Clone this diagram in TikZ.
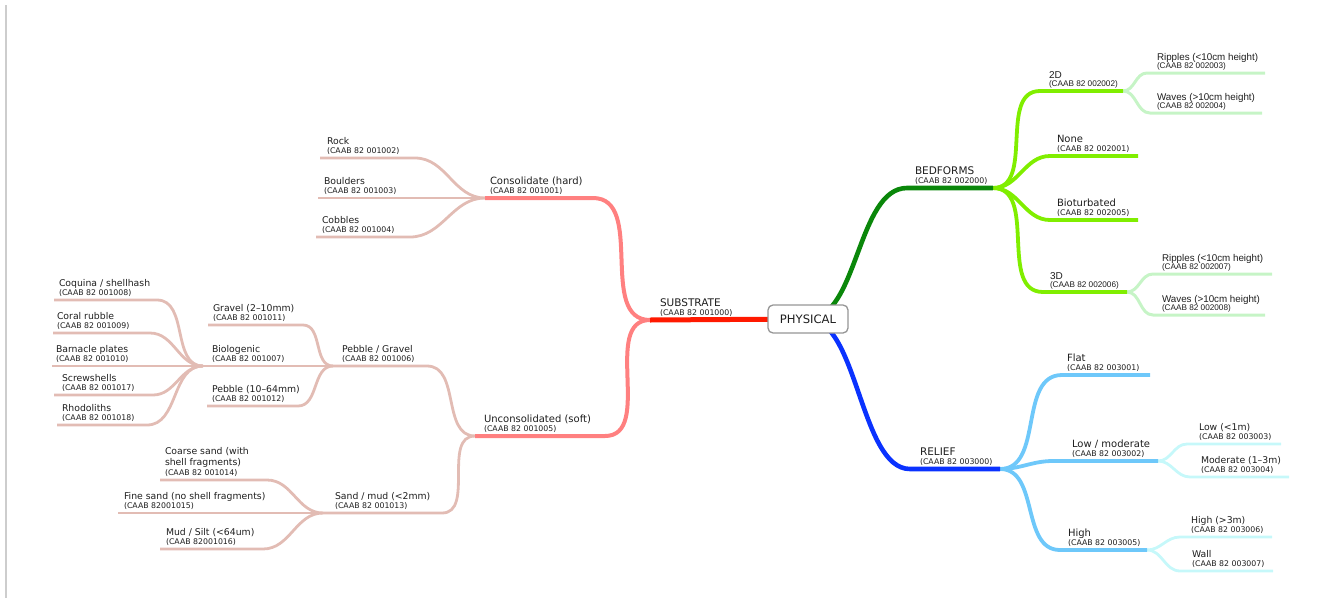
\documentclass[tikz,border=0pt]{standalone}
\usepackage{fontspec}
\usetikzlibrary{backgrounds}
\newfontfamily\lgfont{DejaVu Sans}
\newfontfamily\hvfont{Liberation Sans}
\definecolor{cRed}{RGB}{255,25,0}
\definecolor{cSal}{RGB}{255,128,128}
\definecolor{cPk}{RGB}{226,188,180}
\definecolor{cDG}{RGB}{10,135,10}
\definecolor{cBG}{RGB}{128,238,0}
\definecolor{cPG}{RGB}{198,244,198}
\definecolor{cBl}{RGB}{10,50,255}
\definecolor{cLB}{RGB}{110,200,250}
\definecolor{cPC}{RGB}{198,248,250}
\definecolor{cTxt}{RGB}{30,30,30}
\definecolor{cBar}{RGB}{205,205,205}
\definecolor{cBox}{RGB}{150,150,150}
% name, label style, caption style, text x, line y, label, caption, line x1, line x2
\newcommand{\mmitem}[9]{%
  \coordinate (#1-l) at (#8,#5);
  \coordinate (#1-r) at (#9,#5);
  \node[#2] (#1) at (#4,#5-14) {#6};
  \node[#3] (#1-c) at (#4,#5-4.5) {#7};}
\begin{document}
\begin{tikzpicture}[x=1pt,y=-1pt,
  every node/.style={inner sep=0pt, outer sep=0pt, anchor=base west, text=cTxt},
  labA/.style={font=\lgfont\fontsize{10.5}{12}\selectfont},
  labB/.style={font=\lgfont\fontsize{10}{12}\selectfont},
  lab/.style={font=\lgfont\fontsize{9.3}{11}\selectfont},
  capt/.style={font=\lgfont\fontsize{7.8}{9}\selectfont},
  hlabB/.style={font=\hvfont\fontsize{10}{12}\selectfont, yshift=-1.5pt},
  hlab/.style={font=\hvfont\fontsize{9.8}{12}\selectfont, yshift=-1.5pt},
  hcapt/.style={font=\hvfont\fontsize{8.2}{9}\selectfont},
  wRed/.style={draw=cRed, line width=5pt},
  wSal/.style={draw=cSal, line width=4pt},
  wPk/.style={draw=cPk, line width=2.8pt},
  wDG/.style={draw=cDG, line width=4.6pt},
  wBG/.style={draw=cBG, line width=3.8pt},
  wPG/.style={draw=cPG, line width=3pt},
  wBl/.style={draw=cBl, line width=4.6pt},
  wLB/.style={draw=cLB, line width=3.8pt},
  wPC/.style={draw=cPC, line width=2.8pt},
  physbox/.style={draw=cBox, line width=1.3pt, fill=white, rounded corners=5pt,
    minimum width=80pt, minimum height=28pt, anchor=center,
    font=\lgfont\fontsize{11.6}{13}\selectfont}
]
\useasboundingbox (0,0) rectangle (1330,611);
\draw[cBar, line width=1.2pt] (6,5) -- (6,598);

\node[physbox] (phys) at (808,319) {PHYSICAL};

% ---- left side ----
\mmitem{sub}{labA}{capt}{660}{320}{SUBSTRATE}{(CAAB 82 001000)}{650}{768}
\mmitem{con}{labB}{capt}{490}{198}{Consolidate (hard)}{(CAAB 82 001001)}{485}{593}
\mmitem{unc}{labB}{capt}{484}{436}{Unconsolidated (soft)}{(CAAB 82 001005)}{475}{605}
\mmitem{rock}{lab}{capt}{327}{158}{Rock}{(CAAB 82 001002)}{320}{415}
\mmitem{bould}{lab}{capt}{324}{198}{Boulders}{(CAAB 82 001003)}{318}{485}
\mmitem{cobb}{lab}{capt}{322}{237}{Cobbles}{(CAAB 82 001004)}{316}{410}
\mmitem{peb}{lab}{capt}{342}{366}{Pebble / Gravel}{(CAAB 82 001006)}{333}{427}
\mmitem{sand}{lab}{capt}{335}{513}{Sand / mud (<2mm)}{(CAAB 82 001013)}{323}{442}
\mmitem{grav}{lab}{capt}{213}{325}{Gravel (2–10mm)}{(CAAB 82 001011)}{208}{303}
\mmitem{bio}{lab}{capt}{212}{366}{Biologenic}{(CAAB 82 001007)}{203}{333}
\mmitem{pten}{lab}{capt}{212}{406}{Pebble (10–64mm)}{(CAAB 82 001012)}{207}{298}
\mmitem{coq}{lab}{capt}{59}{300}{Coquina / shellhash}{(CAAB 82 001008)}{54}{157}
\mmitem{coral}{lab}{capt}{57}{333}{Coral rubble}{(CAAB 82 001009)}{53}{150}
\mmitem{barn}{lab}{capt}{56}{366}{Barnacle plates}{(CAAB 82 001010)}{52}{203}
\mmitem{screw}{lab}{capt}{62}{395}{Screwshells}{(CAAB 82 001017)}{54}{153}
\mmitem{rhodo}{lab}{capt}{62}{425}{Rhodoliths}{(CAAB 82 001018)}{57}{147}
\mmitem{fine}{lab}{capt}{124}{513}{Fine sand (no shell fragments)}{(CAAB 82001015)}{118}{323}
\mmitem{mud}{lab}{capt}{166}{549}{Mud / Silt (<64um)}{(CAAB 82001016)}{160}{263}
\coordinate (coarse-l) at (160,480);
\coordinate (coarse-r) at (267,480);
\node[lab] (coarse) at (165,454) {Coarse sand (with};
\node[lab] (coarse-b) at (165,465) {shell fragments)};
\node[capt] (coarse-c) at (165,475.5) {(CAAB 82 001014)};

% ---- right side ----
\mmitem{bed}{labA}{capt}{915}{188}{BEDFORMS}{(CAAB 82 002000)}{907}{993}
\mmitem{rel}{labA}{capt}{920}{469}{RELIEF}{(CAAB 82 003000)}{910}{1000}
\mmitem{dtwo}{hlabB}{hcapt}{1049}{91}{2D}{(CAAB 82 002002)}{1040}{1123}
\mmitem{none}{labB}{capt}{1057}{156}{None}{(CAAB 82 002001)}{1050}{1138}
\mmitem{biot}{labB}{capt}{1057}{220}{Bioturbated}{(CAAB 82 002005)}{1050}{1138}
\mmitem{dthree}{hlabB}{hcapt}{1050}{292}{3D}{(CAAB 82 002006)}{1043}{1127}
\mmitem{riptwo}{hlab}{hcapt}{1157}{73}{Ripples (<10cm height)}{(CAAB 82 002003)}{1147}{1265}
\mmitem{wavtwo}{hlab}{hcapt}{1157}{113}{Waves (>10cm height)}{(CAAB 82 002004)}{1150}{1262}
\mmitem{ripthree}{hlab}{hcapt}{1162}{274}{Ripples (<10cm height)}{(CAAB 82 002007)}{1153}{1272}
\mmitem{wavthree}{hlab}{hcapt}{1162}{315}{Waves (>10cm height)}{(CAAB 82 002008)}{1153}{1265}
\mmitem{flat}{labB}{capt}{1067}{375}{Flat}{(CAAB 82 003001)}{1062}{1150}
\mmitem{lowm}{labB}{capt}{1072}{461}{Low / moderate}{(CAAB 82 003002)}{1053}{1158}
\mmitem{high}{labB}{capt}{1068}{550}{High}{(CAAB 82 003005)}{1060}{1147}
\mmitem{lowone}{lab}{capt}{1199}{444}{Low (<1m)}{(CAAB 82 003003)}{1187}{1281}
\mmitem{mod}{lab}{capt}{1201}{477}{Moderate (1–3m)}{(CAAB 82 003004)}{1190}{1289}
\mmitem{highthree}{lab}{capt}{1191}{537}{High (>3m)}{(CAAB 82 003006)}{1180}{1272}
\mmitem{wall}{lab}{capt}{1192}{571}{Wall}{(CAAB 82 003007)}{1180}{1273}

\begin{scope}[on background layer]
  % left, deepest level
  \draw[wPk] (coq-l) -- (coq-r) to[out=0,in=180] (bio-l);
  \draw[wPk] (coral-l) -- (coral-r) to[out=0,in=180] (bio-l);
  \draw[wPk] (barn-l) -- (bio-l);
  \draw[wPk] (screw-l) -- (screw-r) to[out=0,in=180] (bio-l);
  \draw[wPk] (rhodo-l) -- (rhodo-r) to[out=0,in=180] (bio-l);
  \draw[wPk] (grav-l) -- (grav-r) to[out=0,in=180] (peb-l);
  \draw[wPk] (bio-l) -- (peb-l);
  \draw[wPk] (pten-l) -- (pten-r) to[out=0,in=180] (peb-l);
  \draw[wPk] (coarse-l) -- (coarse-r) to[out=0,in=180] (sand-l);
  \draw[wPk] (fine-l) -- (sand-l);
  \draw[wPk] (mud-l) -- (mud-r) to[out=0,in=180] (sand-l);
  \draw[wPk] (rock-l) -- (rock-r) to[out=0,in=180] (con-l);
  \draw[wPk] (bould-l) -- (con-l);
  \draw[wPk] (cobb-l) -- (cobb-r) to[out=0,in=180] (con-l);
  \draw[wPk] (peb-l) -- (peb-r) to[out=0,in=180] (unc-l);
  \draw[wPk] (sand-l) -- (sand-r) to[out=0,in=180] (unc-l);
  \draw[wSal] (con-l) -- (con-r) to[out=0,in=180] (sub-l);
  \draw[wSal] (unc-l) -- (unc-r) to[out=0,in=180] (sub-l);
  \draw[wRed] (sub-l) -- (phys.center);
  % right, bedforms
  \draw[wPG] (dtwo-r) to[out=0,in=180] (riptwo-l) -- (riptwo-r);
  \draw[wPG] (dtwo-r) to[out=0,in=180] (wavtwo-l) -- (wavtwo-r);
  \draw[wPG] (dthree-r) to[out=0,in=180] (ripthree-l) -- (ripthree-r);
  \draw[wPG] (dthree-r) to[out=0,in=180] (wavthree-l) -- (wavthree-r);
  \draw[wBG] (bed-r) to[out=0,in=180] (dtwo-l) -- (dtwo-r);
  \draw[wBG] (bed-r) to[out=0,in=180] (none-l) -- (none-r);
  \draw[wBG] (bed-r) to[out=0,in=180] (biot-l) -- (biot-r);
  \draw[wBG] (bed-r) to[out=0,in=180] (dthree-l) -- (dthree-r);
  \draw[wDG] (phys.center) .. controls +(50,0) and +(-50,0) .. (bed-l) -- (bed-r);
  % right, relief
  \draw[wPC] (lowm-r) to[out=0,in=180] (lowone-l) -- (lowone-r);
  \draw[wPC] (lowm-r) to[out=0,in=180] (mod-l) -- (mod-r);
  \draw[wPC] (high-r) to[out=0,in=180] (highthree-l) -- (highthree-r);
  \draw[wPC] (high-r) to[out=0,in=180] (wall-l) -- (wall-r);
  \draw[wLB] (rel-r) to[out=0,in=180] (flat-l) -- (flat-r);
  \draw[wLB] (rel-r) to[out=0,in=180] (lowm-l) -- (lowm-r);
  \draw[wLB] (rel-r) to[out=0,in=180] (high-l) -- (high-r);
  \draw[wBl] (phys.center) .. controls +(50,0) and +(-50,0) .. (rel-l) -- (rel-r);
\end{scope}
\end{tikzpicture}
\end{document}
